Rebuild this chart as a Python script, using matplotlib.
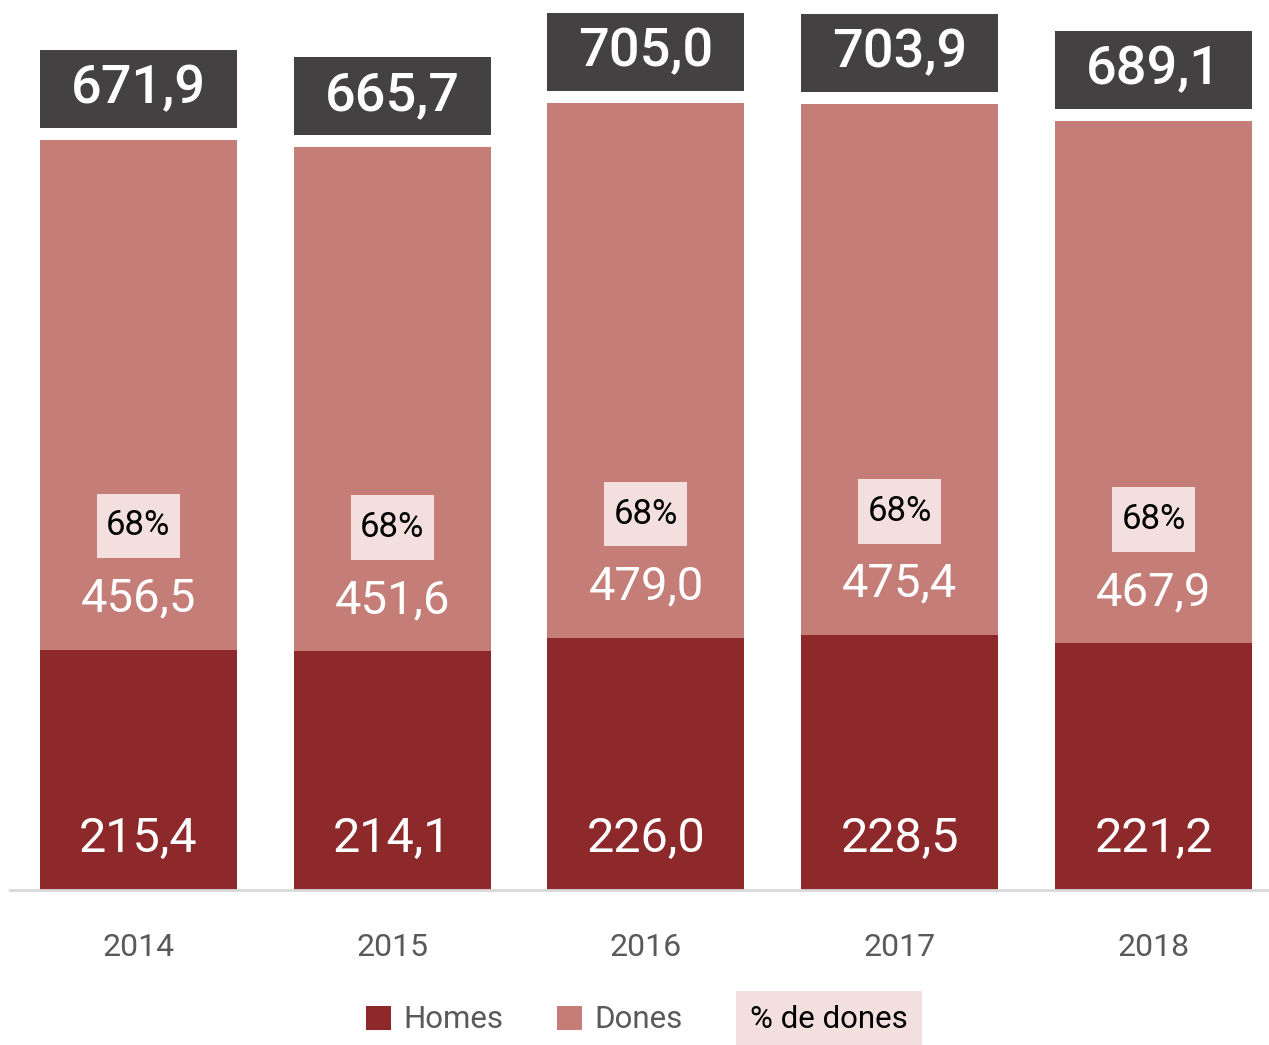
import matplotlib
matplotlib.use("Agg")
import matplotlib.pyplot as plt
from matplotlib.patches import Patch

plt.rcParams['font.family'] = ['Roboto', 'DejaVu Sans']

years = ['2014', '2015', '2016', '2017', '2018']
homes = [215.4, 214.1, 226.0, 228.5, 221.2]
dones = [456.5, 451.6, 479.0, 475.4, 467.9]
totals = [671.9, 665.7, 705.0, 703.9, 689.1]

c_homes = '#8E292B'
c_dones = '#C47E77'
c_total = '#444142'
c_pct = '#F2DFDE'

def fmt(v):
    return f"{v:.1f}".replace('.', ',')

fig = plt.figure(figsize=(12.69, 10.45), dpi=100)
ax = fig.add_axes([0.0079, 0.148, 0.9913, 0.852])

x = list(range(len(years)))
bw = 0.776
ax.bar(x, homes, width=bw, color=c_homes, zorder=2)
ax.bar(x, dones, width=bw, bottom=homes, color=c_dones, zorder=2)
# total boxes
ax.bar(x, [70] * len(x), width=bw, bottom=[t + 11 for t in totals], color=c_total, zorder=2)
# percent boxes
ax.bar(x, [58] * len(x), width=0.327, bottom=[h + 111 - 29 for h in homes], color=c_pct, zorder=3)

for i in x:
    ax.text(i, totals[i] + 46, fmt(totals[i]), ha='center', va='center', color='white',
            fontsize=39, fontweight='medium', zorder=4)
    ax.text(i, homes[i] + 46, fmt(dones[i]), ha='center', va='center', color='white',
            fontsize=34, zorder=4)
    ax.text(i, 46, fmt(homes[i]), ha='center', va='center', color='white',
            fontsize=35, zorder=4)
    pct = round(100 * dones[i] / totals[i])
    ax.text(i, homes[i] + 111, f"{pct}%", ha='center', va='center', color='black',
            fontsize=25, zorder=4)

ax.set_xlim(-0.505, 4.45)
ax.set_ylim(0, 797.5)
ax.set_xticks(x)
ax.set_xticklabels(years, fontsize=23, color='#595959')
ax.tick_params(axis='x', length=0, pad=31)
ax.set_yticks([])
for s in ['top', 'right', 'left']:
    ax.spines[s].set_visible(False)
ax.spines['bottom'].set_color('#D9D9D9')
ax.spines['bottom'].set_linewidth(2)

handles = [Patch(facecolor=c_homes, label='Homes'), Patch(facecolor=c_dones, label='Dones')]
fig.legend(handles=handles, loc='center', bbox_to_anchor=(0.413, 0.024), ncol=2, frameon=False,
           fontsize=22.5, labelcolor='#595959', handlelength=0.8, handleheight=0.8,
           handletextpad=0.4, columnspacing=1.7)
fig.text(0.6535, 0.024, '% de dones', ha='center', va='center', fontsize=22.5, color='black',
         bbox=dict(boxstyle='square,pad=0.45', facecolor=c_pct, edgecolor='none'))

fig.savefig('out.png', dpi=100)
